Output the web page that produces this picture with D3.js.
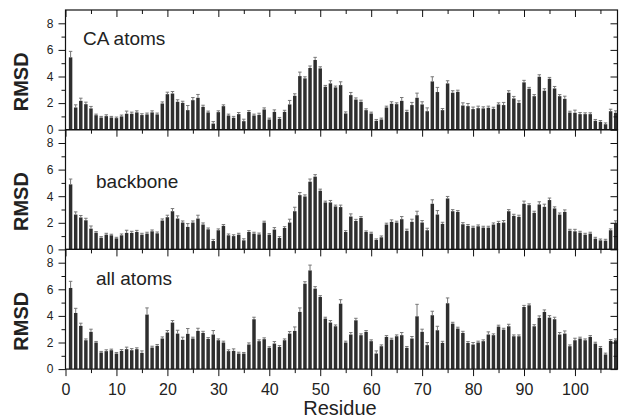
<!DOCTYPE html>
<html>
<head>
<meta charset="utf-8">
<script src="https://d3js.org/d3.v7.min.js"></script>
<style>
  body { margin: 0; background: #fff; }
  text { font-family: "Liberation Sans", Arial, sans-serif; }
</style>
</head>
<body>
<div id="main"></div>
<script>
const ctx = {
    width: 619,
    height: 420,
    left: 65.5,
    right: 617.5,
    top: 10,
    panelH: 119.7
};

// RMSD per residue (1..108)
const caValues = [5.44,1.67,2.17,1.92,1.6,1.09,0.92,1.02,0.92,0.87,1.0,1.2,1.2,1.3,1.1,1.15,1.3,1.15,1.97,2.67,
    2.72,2.1,2.02,1.47,2.22,2.4,1.72,1.3,0.46,1.32,1.77,1.07,0.9,1.17,0.64,1.34,1.07,1.12,1.52,0.77,
    1.34,0.82,1.34,1.9,2.55,4.03,3.86,4.64,5.24,4.61,3.23,3.48,3.18,3.35,1.22,2.6,2.27,2.1,1.47,1.22,
    0.67,0.77,1.67,1.95,1.92,2.17,1.34,1.85,2.4,1.9,1.39,3.63,2.83,1.47,3.48,2.78,2.85,1.82,1.77,1.55,
    1.62,1.6,1.65,1.57,1.9,1.85,2.78,2.35,2.02,3.56,3.08,2.52,3.98,2.93,3.83,3.1,2.52,2.32,1.29,1.27,
    1.17,1.17,1.17,0.67,0.59,0.41,1.39,1.27];
const caErrors = [0.45,0.2,0.2,0.15,0.15,0.08,0.08,0.1,0.08,0.08,0.1,0.2,0.12,0.12,0.1,0.1,0.12,0.1,0.12,0.15,
    0.15,0.15,0.12,0.35,0.2,0.25,0.12,0.1,0.15,0.1,0.1,0.1,0.1,0.12,0.15,0.1,0.1,0.12,0.12,0.1,
    0.15,0.1,0.12,0.3,0.15,0.3,0.12,0.15,0.2,0.12,0.1,0.2,0.1,0.25,0.12,0.2,0.12,0.12,0.1,0.1,
    0.1,0.1,0.1,0.15,0.1,0.25,0.12,0.2,0.35,0.2,0.25,0.35,0.35,0.12,0.2,0.15,0.12,0.2,0.2,0.15,
    0.15,0.12,0.12,0.12,0.12,0.2,0.15,0.15,0.15,0.15,0.1,0.12,0.15,0.15,0.1,0.15,0.12,0.2,0.1,0.2,
    0.12,0.1,0.1,0.1,0.1,0.1,0.15,0.15];

const bbValues = [4.89,2.62,2.4,2.19,1.56,1.26,0.88,1.11,1.06,0.83,1.06,1.24,1.24,1.31,1.11,1.19,1.36,1.21,2.17,2.42,
    2.87,2.32,2.02,1.69,2.02,2.32,1.87,1.51,0.63,1.44,1.77,1.06,1.0,1.11,0.68,1.31,1.19,1.13,2.02,1.11,
    1.49,0.86,1.61,2.02,2.87,4.08,3.98,5.09,5.47,4.41,3.53,3.53,3.23,3.18,1.31,2.47,2.14,2.37,1.31,1.19,
    0.71,0.91,1.87,2.07,2.02,2.27,1.4,2.07,2.57,2.02,1.44,3.43,2.62,1.92,3.83,2.87,2.82,1.89,1.77,1.64,
    1.74,1.64,1.64,1.87,1.99,2.02,2.87,2.52,2.45,3.43,3.33,2.75,3.38,3.2,3.71,3.08,2.62,2.82,1.41,1.36,
    1.26,1.11,1.19,0.81,0.68,0.66,1.44,1.95];
const bbErrors = [0.4,0.2,0.15,0.15,0.2,0.08,0.08,0.1,0.08,0.08,0.1,0.2,0.12,0.12,0.1,0.1,0.1,0.1,0.12,0.15,
    0.2,0.2,0.12,0.25,0.12,0.25,0.12,0.1,0.12,0.1,0.1,0.1,0.1,0.1,0.12,0.1,0.1,0.1,0.1,0.08,
    0.15,0.1,0.1,0.25,0.3,0.2,0.12,0.2,0.15,0.12,0.1,0.15,0.1,0.15,0.1,0.2,0.12,0.1,0.08,0.1,
    0.08,0.1,0.1,0.15,0.1,0.2,0.12,0.2,0.3,0.15,0.15,0.3,0.3,0.12,0.15,0.12,0.1,0.12,0.1,0.1,
    0.1,0.1,0.1,0.12,0.12,0.15,0.12,0.12,0.12,0.2,0.1,0.12,0.2,0.2,0.15,0.12,0.12,0.15,0.1,0.15,
    0.1,0.1,0.1,0.1,0.1,0.1,0.1,0.2];

const allValues = [6.1,4.22,3.25,2.17,2.8,2.0,1.25,1.35,1.42,1.17,1.37,1.5,1.42,1.5,1.22,4.1,1.62,1.75,2.3,2.75,
    3.5,2.67,2.2,2.65,2.3,2.87,2.72,2.27,2.6,2.17,2.0,1.35,1.37,1.17,1.17,1.85,3.75,2.1,2.25,1.6,
    1.92,1.67,2.17,2.67,2.87,4.3,6.42,7.42,6.05,5.42,3.8,3.5,3.22,4.92,2.0,2.6,3.67,2.55,2.8,2.1,
    1.17,1.72,2.42,2.22,2.47,2.55,1.6,2.3,3.97,2.8,1.8,4.05,2.92,1.97,4.95,3.42,3.05,2.72,1.97,1.85,
    2.0,2.1,2.6,2.55,3.2,2.97,3.22,2.47,2.47,4.67,4.8,3.22,3.85,4.3,3.87,3.75,2.6,2.67,1.72,2.17,
    2.3,2.17,2.42,1.92,1.6,1.1,2.12,2.17];
const allErrors = [0.5,0.35,0.2,0.1,0.2,0.08,0.08,0.1,0.08,0.08,0.1,0.15,0.12,0.1,0.15,0.5,0.1,0.1,0.12,0.15,
    0.15,0.25,0.2,0.4,0.1,0.2,0.12,0.1,0.3,0.1,0.1,0.1,0.15,0.1,0.08,0.12,0.15,0.1,0.1,0.08,
    0.15,0.1,0.1,0.15,0.3,0.3,0.15,0.4,0.15,0.1,0.1,0.15,0.1,0.3,0.1,0.15,0.15,0.1,0.1,0.1,
    0.2,0.1,0.1,0.1,0.1,0.2,0.1,0.15,0.9,0.2,0.2,0.3,0.3,0.12,0.4,0.1,0.1,0.12,0.1,0.15,
    0.1,0.1,0.2,0.1,0.1,0.1,0.15,0.1,0.1,0.12,0.1,0.12,0.15,0.15,0.15,0.15,0.15,0.2,0.1,0.15,
    0.1,0.1,0.1,0.1,0.1,0.1,0.1,0.1];

const panelLabels = ["CA atoms", "backbone", "all atoms"];
const xMajorTicks = [0, 10, 20, 30, 40, 50, 60, 70, 80, 90, 100];
const xMinorTicks = [5, 15, 25, 35, 45, 55, 65, 75, 85, 95, 105];
const yMajorTicks = [0, 2, 4, 6, 8];
const yMinorTicks = [1, 3, 5, 7];

function createViz() {
    let svg = d3.select("#main").append("svg")
        .attr("width", ctx.width)
        .attr("height", ctx.height);

    let x = d3.scaleLinear().domain([0, 108.35]).range([ctx.left, ctx.right]);

    let panels = [
        { label: panelLabels[0], values: caValues, errors: caErrors },
        { label: panelLabels[1], values: bbValues, errors: bbErrors },
        { label: panelLabels[2], values: allValues, errors: allErrors }
    ];

    panels.forEach((p, k) => drawPanel(svg, x, p, k));

    // bottom axis with labels
    let bottom = ctx.top + 3 * ctx.panelH;
    let xAxis = svg.append("g").attr("transform", "translate(0," + bottom + ")");
    xAxis.call(d3.axisBottom(x).tickValues(xMajorTicks).tickSize(7).tickPadding(8).tickFormat(d3.format("d")));
    xAxis.append("g").call(d3.axisBottom(x).tickValues(xMinorTicks).tickSize(4).tickFormat(""));
    xAxis.selectAll(".domain").remove();
    xAxis.selectAll("text").style("font-size", "16px").attr("fill", "#222");
    xAxis.selectAll("line").attr("stroke", "#111");

    svg.append("text")
        .attr("x", 340).attr("y", 415)
        .attr("text-anchor", "middle")
        .style("font-size", "20px")
        .attr("fill", "#222")
        .text("Residue");
}

function drawPanel(svg, x, p, k) {
    let top = ctx.top + k * ctx.panelH;
    let bottom = top + ctx.panelH;
    let y = d3.scaleLinear().domain([0, 9]).range([bottom, top]);
    let step = x(1) - x(0);
    let bw = step * 0.68;

    let g = svg.append("g");

    // bars
    g.selectAll("rect.bar")
        .data(p.values)
        .enter().append("rect")
        .attr("class", "bar")
        .attr("x", (d, i) => x(i + 1) - bw / 2)
        .attr("y", d => y(d))
        .attr("width", bw)
        .attr("height", d => bottom - y(d))
        .attr("fill", "#2e2e2e");

    // error bars (upper only)
    let err = g.selectAll("g.err")
        .data(p.values)
        .enter().append("g")
        .attr("class", "err");
    err.append("line")
        .attr("x1", (d, i) => x(i + 1))
        .attr("x2", (d, i) => x(i + 1))
        .attr("y1", d => y(d))
        .attr("y2", (d, i) => y(d + p.errors[i]))
        .attr("stroke", "#777").attr("stroke-width", 1);
    err.append("line")
        .attr("x1", (d, i) => x(i + 1) - bw / 2)
        .attr("x2", (d, i) => x(i + 1) + bw / 2)
        .attr("y1", (d, i) => y(d + p.errors[i]))
        .attr("y2", (d, i) => y(d + p.errors[i]))
        .attr("stroke", "#777").attr("stroke-width", 1);

    // frame
    g.append("rect")
        .attr("x", ctx.left).attr("y", top)
        .attr("width", ctx.right - ctx.left).attr("height", ctx.panelH)
        .attr("fill", "none").attr("stroke", "#111").attr("stroke-width", 1.2);

    // left axis
    let yl = g.append("g").attr("transform", "translate(" + ctx.left + ",0)");
    yl.call(d3.axisLeft(y).tickValues(yMajorTicks).tickSize(7).tickPadding(5));
    yl.append("g").call(d3.axisLeft(y).tickValues(yMinorTicks).tickSize(4).tickFormat(""));
    yl.selectAll(".domain").remove();
    yl.selectAll("text").style("font-size", "12px").attr("fill", "#222");
    yl.selectAll("line").attr("stroke", "#111");

    // right axis, ticks inward
    let yr = g.append("g").attr("transform", "translate(" + ctx.right + ",0)");
    yr.call(d3.axisRight(y).tickValues(yMajorTicks).tickSize(-7).tickFormat(""));
    yr.append("g").call(d3.axisRight(y).tickValues(yMinorTicks).tickSize(-4).tickFormat(""));
    yr.selectAll(".domain").remove();
    yr.selectAll("line").attr("stroke", "#111");

    // top axis, ticks inward
    let xt = g.append("g").attr("transform", "translate(0," + top + ")");
    xt.call(d3.axisTop(x).tickValues(xMajorTicks).tickSize(-7).tickFormat(""));
    xt.append("g").call(d3.axisTop(x).tickValues(xMinorTicks).tickSize(-4).tickFormat(""));
    xt.selectAll(".domain").remove();
    xt.selectAll("line").attr("stroke", "#111");

    // panel label
    g.append("text")
        .attr("x", k == 0 ? 83 : 96)
        .attr("y", top + (k == 0 ? 35 : k == 1 ? 58 : 36))
        .style("font-size", "19px")
        .attr("fill", "#222")
        .text(p.label);

    // y title
    g.append("text")
        .attr("transform", "translate(28," + (top + ctx.panelH / 2 + 12) + ") rotate(-90)")
        .attr("text-anchor", "middle")
        .style("font-size", "20px")
        .style("font-weight", "bold")
        .attr("fill", "#222")
        .text("RMSD");
}

createViz();
</script>
</body>
</html>
